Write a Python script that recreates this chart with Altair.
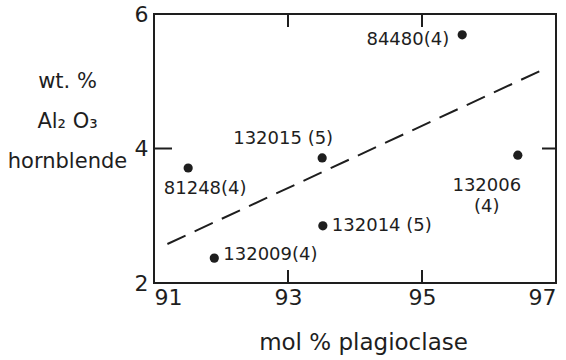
import altair as alt
import pandas as pd

# ---- data ----
samples = ["81248(4)", "84480(4)", "132015 (5)", "132006\n(4)", "132014 (5)", "132009(4)"]
plag = [91.51, 95.60, 93.51, 96.43, 93.52, 91.90]
al2o3 = [3.71, 5.69, 3.86, 3.90, 2.85, 2.37]
fit_x = [91.2, 96.8]
fit_y = [2.58, 5.17]
x_ticks = [91, 93, 95, 97]
y_ticks = [2, 4, 6]
inner_x_ticks = [93, 95]
inner_y_ticks = [4]

INK = "#1e1e1e"
FONT = "DejaVu Sans"
W, H = 402, 269

pts = pd.DataFrame({"idx": range(len(samples)), "sample": samples, "plag": plag, "al": al2o3})
fit = pd.DataFrame({"plag": fit_x, "al": fit_y})
xt = pd.DataFrame({"plag": inner_x_ticks})
yt = pd.DataFrame({"al": inner_y_ticks})

xscale = alt.Scale(domain=[91, 97], nice=False, zero=False)
yscale = alt.Scale(domain=[2, 6], nice=False, zero=False)

xenc = alt.X("plag:Q", scale=xscale, axis=alt.Axis(
    values=x_ticks, format="d", ticks=False, domain=False, grid=False, labelFontSize=22,
    labelPadding=4, labelColor=INK, labelFont=FONT,
    title="mol % plagioclase", titleFontSize=23, titleFontWeight="normal",
    titleFont=FONT, titleColor=INK, titleBaseline="alphabetic", titleY=66, titleX=209))
yenc = alt.Y("al:Q", scale=yscale, axis=alt.Axis(
    values=y_ticks, format="d", ticks=False, domain=False, grid=False, labelFontSize=22,
    labelPadding=6, labelColor=INK, labelFont=FONT,
    title=["wt. %", "Al\u2082 O\u2083", "hornblende"], titleAngle=0,
    titleAlign="center", titleBaseline="middle", titleX=-87, titleY=67,
    titleLineHeight=40, titleFontSize=21, titleFontWeight="normal",
    titleFont=FONT, titleColor=INK))

base = alt.Chart(pts)
points = base.mark_point(filled=True, size=85, color=INK, opacity=1).encode(x=xenc, y=yenc)

line = alt.Chart(fit).mark_line(color=INK, strokeWidth=2, strokeDash=[20, 10]).encode(
    x=alt.X("plag:Q", scale=xscale), y=alt.Y("al:Q", scale=yscale))

# label placement (style): align, dx, dy
place = {
    0: ("center", 17, 21),
    1: ("right", -13, 5),
    2: ("center", -39, -19),
    3: ("center", -31, 31),
    4: ("left", 9, 0),
    5: ("left", 9, -3),
}
labels = []
for i, (al, dx, dy) in place.items():
    labels.append(
        base.transform_filter(alt.datum.idx == i).mark_text(
            align=al, baseline="middle", dx=dx, dy=dy, fontSize=18, font=FONT,
            color=INK, lineBreak="\n", lineHeight=21
        ).encode(x=alt.X("plag:Q", scale=xscale), y=alt.Y("al:Q", scale=yscale), text="sample:N")
    )

tick_style = dict(color=INK, strokeWidth=2)
top_ticks = alt.Chart(xt).mark_rule(**tick_style).encode(
    x=alt.X("plag:Q", scale=xscale), y=alt.value(0), y2=alt.value(13))
bot_ticks = alt.Chart(xt).mark_rule(**tick_style).encode(
    x=alt.X("plag:Q", scale=xscale), y=alt.value(H - 13), y2=alt.value(H))
left_ticks = alt.Chart(yt).mark_rule(**tick_style).encode(
    y=alt.Y("al:Q", scale=yscale), x=alt.value(0), x2=alt.value(18))
right_ticks = alt.Chart(yt).mark_rule(**tick_style).encode(
    y=alt.Y("al:Q", scale=yscale), x=alt.value(W - 14), x2=alt.value(W))

chart = alt.layer(line, points, top_ticks, bot_ticks, left_ticks, right_ticks, *labels).properties(
    width=W, height=H,
    autosize=alt.AutoSizeParams(type="none"),
    padding={"left": 154, "top": 14, "right": 10, "bottom": 77},
).configure(background="white").configure_view(stroke=INK, strokeWidth=2)

chart.save("out.html", embed_options={"renderer": "svg", "actions": False})
